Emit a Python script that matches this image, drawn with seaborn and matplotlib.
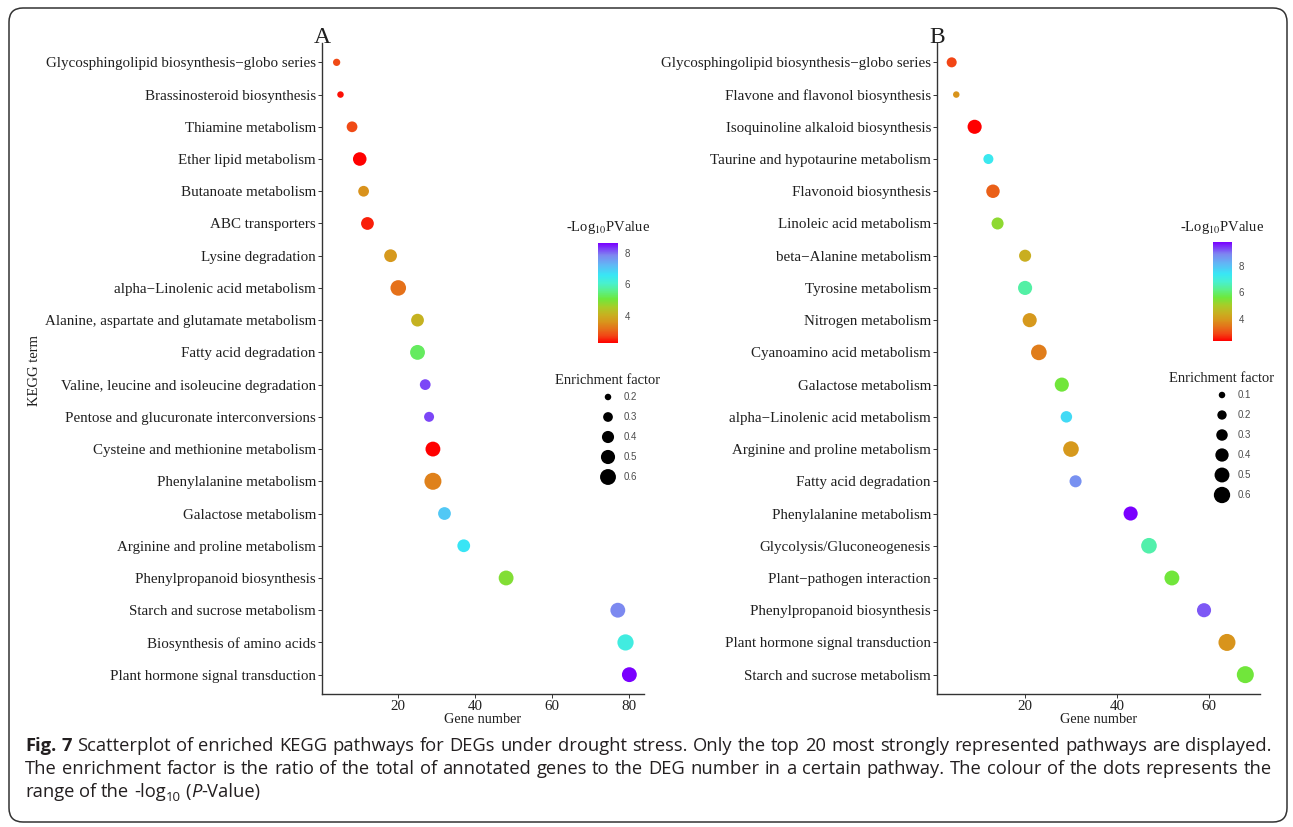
import numpy as np
import pandas as pd
import seaborn as sns
import matplotlib.pyplot as plt
from matplotlib.colors import LinearSegmentedColormap, Normalize
from matplotlib.cm import ScalarMappable
from matplotlib.patches import FancyBboxPatch
from matplotlib.ticker import MultipleLocator
from matplotlib.transforms import IdentityTransform

# ---- panel A: KEGG terms (top to bottom as shown) ----
terms_a = [
    "Glycosphingolipid biosynthesis\u2212globo series",
    "Brassinosteroid biosynthesis",
    "Thiamine metabolism",
    "Ether lipid metabolism",
    "Butanoate metabolism",
    "ABC transporters",
    "Lysine degradation",
    "alpha\u2212Linolenic acid metabolism",
    "Alanine, aspartate and glutamate metabolism",
    "Fatty acid degradation",
    "Valine, leucine and isoleucine degradation",
    "Pentose and glucuronate interconversions",
    "Cysteine and methionine metabolism",
    "Phenylalanine metabolism",
    "Galactose metabolism",
    "Arginine and proline metabolism",
    "Phenylpropanoid biosynthesis",
    "Starch and sucrose metabolism",
    "Biosynthesis of amino acids",
    "Plant hormone signal transduction",
]
genes_a = [4, 5, 8, 10, 11, 12, 18, 20, 25, 25, 27, 28, 29, 29, 32, 37, 48, 77, 79, 80]
factor_a = [0.22, 0.20, 0.34, 0.47, 0.34, 0.43, 0.43, 0.58, 0.43, 0.54,
            0.34, 0.31, 0.54, 0.67, 0.43, 0.43, 0.54, 0.54, 0.62, 0.54]
logp_a = [2.8, 2.4, 2.8, 2.3, 3.6, 2.5, 3.7, 3.2, 4.1, 5.3,
          8.2, 8.2, 2.3, 3.4, 7.0, 6.6, 4.9, 7.8, 6.3, 8.6]
size_breaks_a = [0.2, 0.3, 0.4, 0.5, 0.6]

# ---- panel B ----
terms_b = [
    "Glycosphingolipid biosynthesis\u2212globo series",
    "Flavone and flavonol biosynthesis",
    "Isoquinoline alkaloid biosynthesis",
    "Taurine and hypotaurine metabolism",
    "Flavonoid biosynthesis",
    "Linoleic acid metabolism",
    "beta\u2212Alanine metabolism",
    "Tyrosine metabolism",
    "Nitrogen metabolism",
    "Cyanoamino acid metabolism",
    "Galactose metabolism",
    "alpha\u2212Linolenic acid metabolism",
    "Arginine and proline metabolism",
    "Fatty acid degradation",
    "Phenylalanine metabolism",
    "Glycolysis/Gluconeogenesis",
    "Plant\u2212pathogen interaction",
    "Phenylpropanoid biosynthesis",
    "Plant hormone signal transduction",
    "Starch and sucrose metabolism",
]
genes_b = [4, 5, 9, 12, 13, 14, 20, 20, 21, 23, 28, 29, 30, 31, 43, 47, 52, 59, 64, 68]
factor_b = [0.23, 0.10, 0.45, 0.23, 0.41, 0.33, 0.33, 0.45, 0.45, 0.55,
            0.45, 0.30, 0.55, 0.33, 0.45, 0.55, 0.50, 0.45, 0.65, 0.65]
logp_b = [2.9, 3.9, 2.35, 7.3, 3.2, 5.3, 4.4, 6.45, 4.0, 3.6,
          5.6, 7.6, 4.0, 8.75, 9.8, 6.5, 5.6, 9.2, 3.9, 5.6]
size_breaks_b = [0.1, 0.2, 0.3, 0.4, 0.5, 0.6]

W, H, DPI = 1293, 827, 100

sns.set_style("white")
plt.rcParams["font.family"] = ["Liberation Serif", "DejaVu Serif"]
plt.rcParams["mathtext.fontset"] = "stix"

cmap = LinearSegmentedColormap.from_list("kegg", [
    (0.00, "#FF0000"), (0.07, "#F24515"), (0.14, "#E5701A"), (0.21, "#D8951C"),
    (0.28, "#C8B020"), (0.36, "#A8CC28"), (0.44, "#6EE83C"), (0.52, "#5AF08C"),
    (0.60, "#48F0D0"), (0.68, "#38E6F5"), (0.78, "#60B8F5"), (0.88, "#7E86F0"),
    (1.00, "#7A00FF"),
])

D_MIN, D_MAX = 6.5, 17.0   # dot diameter in px for the smallest / largest factor
AX_COL = "#333333"
TXT_COL = "#1f1f1f"
SANS = ["Liberation Sans", "DejaVu Sans"]

fig = plt.figure(figsize=(W / DPI, H / DPI), dpi=DPI)


def px_rect(x0, y0, x1, y1):
    return [x0 / W, 1 - y1 / H, (x1 - x0) / W, (y1 - y0) / H]


def area(d):
    return (d * 72 / DPI) ** 2


def size_area(v, fmin, fmax):
    return area(D_MIN) + (v - fmin) / (fmax - fmin) * (area(D_MAX) - area(D_MIN))


def panel(rect, terms, genes, factor, logp, title, cbar_rect, size_cx, size_top, breaks):
    ax = fig.add_axes(px_rect(*rect))
    df = pd.DataFrame({"term": terms, "genes": genes, "factor": factor, "logp": logp})
    fmin, fmax = min(factor), max(factor)
    pnorm = Normalize(min(logp), max(logp))
    sns.scatterplot(data=df, x="genes", y="term", hue="logp", palette=cmap, hue_norm=pnorm,
                    size="factor", sizes=(area(D_MIN), area(D_MAX)), size_norm=(fmin, fmax),
                    linewidth=0, legend=False, ax=ax, zorder=3)
    rng = max(genes) - min(genes)
    ax.set_xlim(min(genes) - 0.05 * rng, max(genes) + 0.05 * rng)
    ax.set_ylim(len(terms) - 0.4, -0.6)
    ax.xaxis.set_major_locator(MultipleLocator(20))
    for side in ["top", "right"]:
        ax.spines[side].set_visible(False)
    for side in ["left", "bottom"]:
        ax.spines[side].set_color(AX_COL)
        ax.spines[side].set_linewidth(1.0)
    ax.tick_params(axis="both", direction="out", length=2.9, width=0.7, color=AX_COL,
                   labelcolor=TXT_COL, left=True, bottom=True)
    ax.tick_params(axis="y", labelsize=10.8, pad=1.5)
    ax.tick_params(axis="x", labelsize=10.8, pad=1.2)
    ax.set_xlabel("Gene number", fontsize=10.3, color=TXT_COL, labelpad=0)
    ax.set_ylabel("")
    ax.text(0, 1.0, title, transform=ax.transAxes, ha="center", va="baseline",
            fontsize=17, color=TXT_COL)

    # colour bar legend
    cax = fig.add_axes(px_rect(*cbar_rect))
    cb = fig.colorbar(ScalarMappable(norm=pnorm, cmap=cmap), cax=cax, ticks=[4, 6, 8])
    cb.outline.set_visible(False)
    cax.tick_params(axis="y", direction="in", length=3, width=0.6, color="white",
                    left=True, right=True, labelsize=7, labelcolor="#4d4d4d", pad=5)
    for lab in cax.get_yticklabels():
        lab.set_family(SANS)
    cx = (cbar_rect[0] + cbar_rect[2]) / 2
    fig.text(cx / W, 1 - (cbar_rect[1] - 15) / H, r"-Log$_{10}$PValue", ha="center",
             va="center", fontsize=10.5, color=TXT_COL)

    # size legend
    n = len(breaks)
    lax = fig.add_axes(px_rect(size_cx - 10, size_top - 10, size_cx + 10, size_top - 10 + 20 * n))
    lax.set_axis_off()
    lax.set_xlim(-1, 1)
    lax.set_ylim(n - 0.5, -0.5)
    lax.scatter(np.zeros(n), np.arange(n), s=[size_area(b, fmin, fmax) for b in breaks],
                color="black", linewidths=0, clip_on=False)
    for i, b in enumerate(breaks):
        lax.text(1.6, i, f"{b:.1f}", ha="left", va="center", fontsize=7,
                 color="#4d4d4d", family=SANS)
    fig.text(size_cx / W, 1 - (size_top - 16) / H, "Enrichment factor", ha="center",
             va="center", fontsize=10.5, color=TXT_COL)
    return ax


ax_a = panel((322, 43, 644, 694), terms_a, genes_a, factor_a, logp_a, "A",
             (598, 243, 618, 343), 608, 397, size_breaks_a)
ax_b = panel((937, 43, 1260, 694), terms_b, genes_b, factor_b, logp_b, "B",
             (1213, 242, 1232, 341), 1222, 395, size_breaks_b)

fig.text(34 / W, 1 - 370 / H, "KEGG term", rotation=90, ha="center", va="center",
         fontsize=10.5, color=TXT_COL)

# ---- caption ----
renderer = fig.canvas.get_renderer()
CAP = ["Open Sans", "DejaVu Sans"]
cap_col = "#231f20"


def text_width(s, **kw):
    t = fig.text(0, 0, s, **kw)
    w = t.get_window_extent(renderer).width
    t.remove()
    return w


line1 = [("Fig.", "bold"), ("7", "bold")] + [(w, "normal") for w in (
    "Scatterplot of enriched KEGG pathways for DEGs under drought stress. "
    "Only the top 20 most strongly represented pathways are displayed.").split()]
line2 = [(w, "normal") for w in (
    "The enrichment factor is the ratio of the total of annotated genes to the DEG "
    "number in a certain pathway. The colour of the dots represents the").split()]

x0, x1 = 25, 1272
fs = 12.0
space = text_width("a a", family=CAP, fontsize=fs) - text_width("aa", family=CAP, fontsize=fs)
natural = sum(text_width(w, family=CAP, fontsize=fs, weight=wt) for w, wt in line1) \
    + space * (len(line1) - 1)
fs = fs * (x1 - x0) / natural * 0.99


def justify(words, y):
    widths = [text_width(w, family=CAP, fontsize=fs, weight=wt) for w, wt in words]
    gap = (x1 - x0 - sum(widths)) / (len(words) - 1)
    x = x0
    for (w, wt), wd in zip(words, widths):
        fig.text(x / W, 1 - y / H, w, family=CAP, fontsize=fs, weight=wt, color=cap_col,
                 va="baseline", ha="left")
        x += wd + gap


justify(line1, 751)
justify(line2, 774)

space = text_width("a a", family=CAP, fontsize=fs) - text_width("aa", family=CAP, fontsize=fs)
runs3 = [[("range", {}, 0)], [("of", {}, 0)], [("the", {}, 0)],
         [("-log", {}, 0), ("10", {"fontsize": fs * 0.72}, 4)],
         [("(", {}, 0), ("P", {"style": "italic"}, 0), ("-Value)", {}, 0)]]
x = x0
for group in runs3:
    for s, kw, dy in group:
        props = {"family": CAP, "fontsize": fs, "color": cap_col}
        props.update(kw)
        t = fig.text(x / W, 1 - (797 + dy) / H, s, va="baseline", ha="left", **props)
        x += t.get_window_extent(renderer).width
    x += space

# rounded frame around the figure
fig.patches.append(FancyBboxPatch((9, H - 822), 1278, 814,
                                  boxstyle="round,pad=0,rounding_size=14",
                                  transform=IdentityTransform(), fill=False,
                                  edgecolor="#333333", linewidth=1.1))

fig.savefig("out.png", dpi=DPI)
